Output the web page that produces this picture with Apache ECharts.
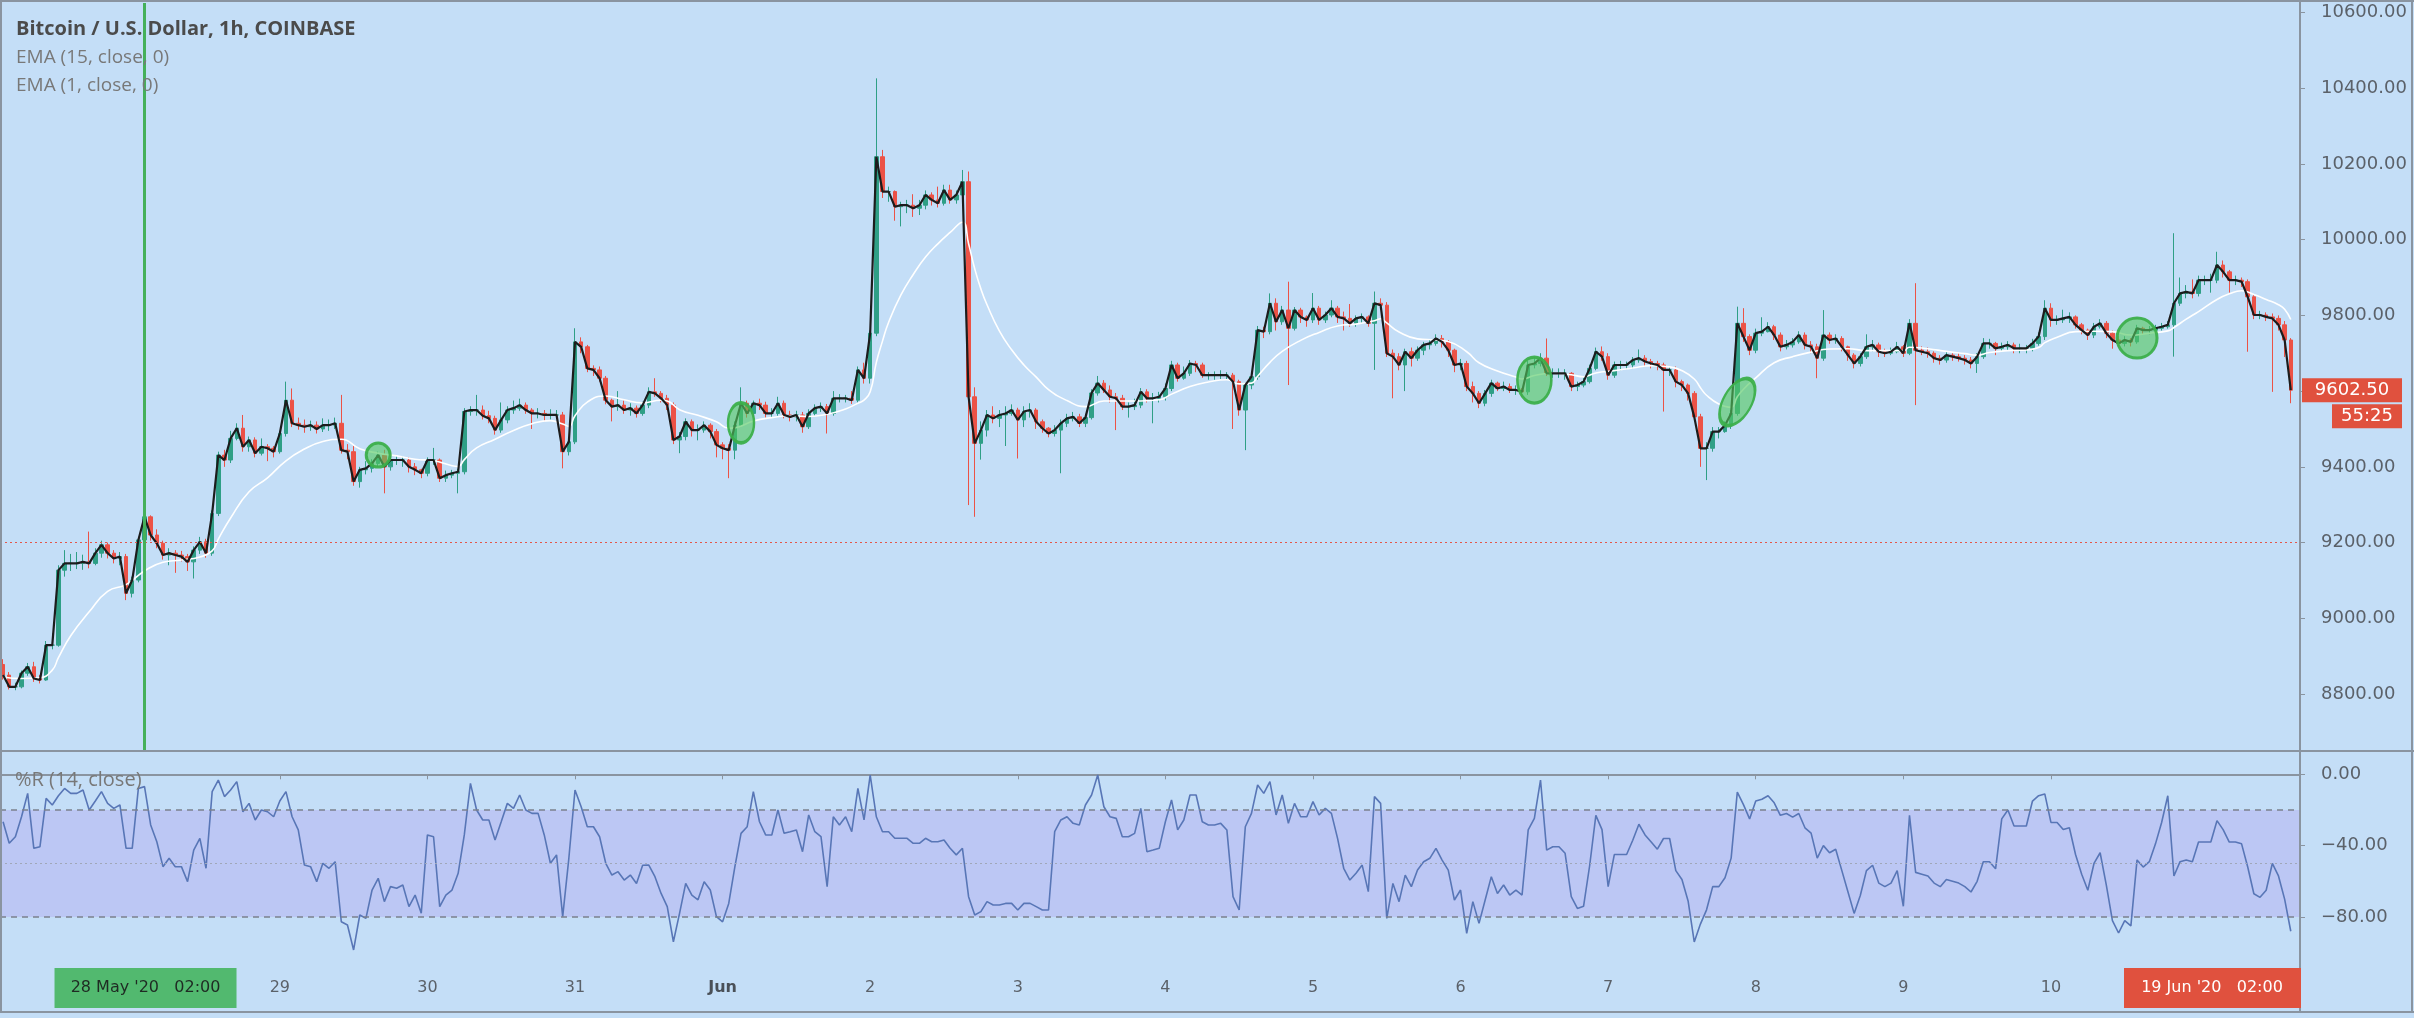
<!DOCTYPE html>
<html><head><meta charset="utf-8">
<script src="https://cdn.jsdelivr.net/npm/echarts@6/dist/echarts.min.js"></script>
<style>html,body{margin:0;padding:0;background:#c4def7;}#c{width:2414px;height:1018px;}</style>
</head><body><div id="c"></div>
<script>
// ---------- data ----------
const startTime = Date.UTC(2020, 4, 27, 3); // first hourly candle: 27 May 2020 03:00
const opens = [8878,8850,8819,8819,8855,8872,8841,8837,8929,8929,
9127,9145,9145,9145,9149,9145,9172,9194,9172,9158,
9163,9066,9101,9207,9268,9220,9198,9167,9172,9167,
9163,9149,9180,9202,9172,9277,9431,9418,9475,9502,
9453,9471,9436,9453,9449,9440,9488,9576,9515,9510,
9506,9510,9500,9510,9510,9515,9444,9440,9361,9392,
9396,9409,9431,9400,9418,9418,9418,9400,9392,9383,
9418,9418,9370,9378,9383,9387,9546,9550,9550,9535,
9528,9497,9524,9550,9555,9563,9550,9541,9541,9537,
9537,9537,9440,9466,9730,9717,9660,9656,9634,9576,
9559,9563,9550,9555,9541,9563,9598,9594,9581,9563,
9471,9480,9519,9497,9497,9510,9493,9458,9449,9444,
9510,9568,9541,9568,9563,9541,9541,9568,9537,9532,
9537,9506,9541,9555,9559,9541,9581,9581,9581,9576,
9656,9634,9753,10219,10127,10127,10087,10091,10091,10083,
10091,10118,10105,10096,10131,10105,10118,10153,9585,9462,
9497,9537,9528,9537,9541,9550,9524,9546,9550,9519,
9502,9488,9497,9515,9528,9532,9515,9530,9595,9621,
9603,9585,9581,9559,9559,9563,9598,9581,9581,9585,
9607,9669,9634,9647,9673,9669,9642,9642,9642,9642,
9642,9625,9550,9616,9638,9761,9757,9832,9783,9814,
9766,9814,9796,9788,9819,9788,9801,9819,9796,9792,
9779,9792,9796,9779,9832,9827,9700,9691,9669,9704,
9687,9708,9722,9726,9739,9730,9708,9669,9673,9612,
9594,9568,9594,9621,9607,9612,9603,9603,9598,9669,
9673,9687,9647,9647,9647,9647,9612,9616,9625,9660,
9704,9691,9642,9669,9669,9669,9682,9687,9678,9673,
9669,9656,9656,9625,9616,9594,9532,9449,9449,9493,
9493,9510,9541,9779,9744,9708,9753,9757,9770,9748,
9717,9722,9730,9748,9722,9717,9687,9748,9735,9739,
9717,9695,9673,9691,9717,9722,9704,9700,9704,9717,
9700,9779,9708,9704,9700,9687,9682,9695,9691,9687,
9682,9673,9691,9726,9726,9713,9717,9722,9713,9713,
9713,9726,9744,9819,9788,9788,9792,9796,9775,9761,
9748,9770,9779,9753,9735,9726,9735,9730,9766,9761,
9761,9766,9770,9775,9832,9858,9862,9858,9893,9893,
9893,9933,9915,9893,9893,9889,9849,9801,9801,9796,
9792,9775,9735];
const closes = [8850,8819,8819,8855,8872,8841,8837,8929,8929,9127,
9145,9145,9145,9149,9145,9172,9194,9172,9158,9163,
9066,9101,9207,9268,9220,9198,9167,9172,9167,9163,
9149,9180,9202,9172,9277,9431,9418,9475,9502,9453,
9471,9436,9453,9449,9440,9488,9576,9515,9510,9506,
9510,9500,9510,9510,9515,9444,9440,9361,9392,9396,
9409,9431,9400,9418,9418,9418,9400,9392,9383,9418,
9418,9370,9378,9383,9387,9546,9550,9550,9535,9528,
9497,9524,9550,9555,9563,9550,9541,9541,9537,9537,
9537,9440,9466,9730,9717,9660,9656,9634,9576,9559,
9563,9550,9555,9541,9563,9598,9594,9581,9563,9471,
9480,9519,9497,9497,9510,9493,9458,9449,9444,9510,
9568,9541,9568,9563,9541,9541,9568,9537,9532,9537,
9506,9541,9555,9559,9541,9581,9581,9581,9576,9656,
9634,9753,10219,10127,10127,10087,10091,10091,10083,10091,
10118,10105,10096,10131,10105,10118,10153,9585,9462,9497,
9537,9528,9537,9541,9550,9524,9546,9550,9519,9502,
9488,9497,9515,9528,9532,9515,9530,9595,9621,9603,
9585,9581,9559,9559,9563,9598,9581,9581,9585,9607,
9669,9634,9647,9673,9669,9642,9642,9642,9642,9642,
9625,9550,9616,9638,9761,9757,9832,9783,9814,9766,
9814,9796,9788,9819,9788,9801,9819,9796,9792,9779,
9792,9796,9779,9832,9827,9700,9691,9669,9704,9687,
9708,9722,9726,9739,9730,9708,9669,9673,9612,9594,
9568,9594,9621,9607,9612,9603,9603,9598,9669,9673,
9687,9647,9647,9647,9647,9612,9616,9625,9660,9704,
9691,9642,9669,9669,9669,9682,9687,9678,9673,9669,
9656,9656,9625,9616,9594,9532,9449,9449,9493,9493,
9510,9541,9779,9744,9708,9753,9757,9770,9748,9717,
9722,9730,9748,9722,9717,9687,9748,9735,9739,9717,
9695,9673,9691,9717,9722,9704,9700,9704,9717,9700,
9779,9708,9704,9700,9687,9682,9695,9691,9687,9682,
9673,9691,9726,9726,9713,9717,9722,9713,9713,9713,
9726,9744,9819,9788,9788,9792,9796,9775,9761,9748,
9770,9779,9753,9735,9726,9735,9730,9766,9761,9761,
9766,9770,9775,9832,9858,9862,9858,9893,9893,9893,
9933,9915,9893,9893,9889,9849,9801,9801,9796,9792,
9775,9735,9602.5];
const highs = [8892,8858,8830,8862,8882,8885,8850,8940,8960,9140,
9180,9170,9175,9168,9229,9185,9205,9200,9180,9175,
9170,9110,9215,9286,9272,9235,9205,9185,9180,9178,
9170,9190,9215,9210,9285,9440,9445,9495,9515,9537,
9480,9478,9475,9460,9455,9495,9625,9607,9530,9525,
9522,9520,9528,9525,9530,9590,9460,9455,9400,9415,
9420,9440,9445,9428,9430,9428,9425,9410,9395,9425,
9450,9422,9390,9392,9395,9555,9560,9590,9562,9548,
9535,9570,9560,9575,9580,9570,9555,9555,9550,9552,
9550,9545,9475,9766,9742,9722,9668,9665,9640,9580,
9600,9575,9568,9562,9572,9610,9634,9600,9590,9570,
9492,9528,9525,9512,9520,9515,9500,9465,9460,9520,
9610,9575,9575,9580,9572,9555,9585,9575,9548,9548,
9545,9552,9565,9570,9566,9600,9592,9590,9600,9665,
9675,9760,10426,10237,10140,10130,10100,10105,10120,10105,
10130,10125,10140,10145,10145,10130,10184,10180,9610,9520,
9550,9560,9550,9560,9565,9556,9560,9568,9555,9525,
9505,9510,9525,9540,9545,9540,9540,9605,9640,9629,
9615,9595,9590,9570,9580,9608,9605,9595,9598,9620,
9680,9675,9665,9682,9680,9675,9650,9652,9655,9650,
9648,9630,9622,9645,9772,9770,9858,9845,9825,9889,
9822,9820,9800,9859,9825,9810,9840,9825,9810,9830,
9800,9805,9800,9863,9845,9835,9710,9700,9712,9715,
9718,9730,9735,9750,9748,9735,9712,9685,9680,9625,
9600,9603,9630,9625,9625,9620,9615,9608,9680,9690,
9700,9739,9660,9660,9658,9650,9625,9635,9670,9715,
9718,9700,9678,9680,9678,9690,9710,9695,9685,9680,
9675,9665,9665,9630,9620,9600,9540,9465,9505,9505,
9520,9550,9823,9819,9750,9765,9795,9782,9775,9755,
9735,9740,9758,9755,9732,9725,9814,9755,9750,9745,
9720,9700,9700,9750,9735,9728,9712,9715,9730,9722,
9790,9885,9718,9715,9705,9695,9705,9700,9700,9695,
9690,9700,9740,9738,9730,9728,9732,9728,9725,9722,
9738,9755,9840,9832,9800,9815,9808,9800,9780,9765,
9780,9790,9785,9760,9745,9745,9740,9775,9770,9772,
9775,9780,9785,10017,9900,9880,9895,9905,9905,9910,
9968,9945,9920,9905,9900,9895,9855,9812,9808,9805,
9800,9785,9740];
const lows = [8838,8812,8810,8815,8848,8832,8828,8835,8918,8925,
9110,9125,9130,9128,9132,9140,9160,9158,9145,9140,
9048,9055,9095,9195,9205,9185,9155,9140,9120,9150,
9125,9105,9170,9160,9165,9270,9400,9410,9470,9440,
9440,9425,9430,9415,9425,9435,9480,9505,9498,9490,
9495,9488,9492,9495,9500,9435,9420,9350,9345,9380,
9385,9400,9330,9390,9405,9400,9385,9378,9370,9375,
9405,9360,9360,9370,9330,9380,9535,9535,9525,9515,
9485,9490,9515,9540,9548,9540,9500,9528,9520,9525,
9528,9396,9430,9460,9700,9650,9640,9625,9565,9520,
9548,9540,9535,9530,9535,9555,9585,9570,9550,9460,
9436,9470,9480,9470,9490,9475,9425,9420,9370,9420,
9505,9530,9530,9550,9530,9530,9535,9528,9520,9520,
9490,9500,9535,9545,9488,9535,9570,9570,9566,9570,
9620,9620,9745,10110,10100,10050,10035,10070,10060,10065,
10080,10090,10085,10090,10095,10095,10110,9299,9268,9419,
9480,9515,9505,9455,9535,9422,9505,9530,9500,9490,
9478,9480,9383,9505,9520,9505,9505,9525,9588,9595,
9570,9497,9550,9530,9550,9555,9570,9515,9570,9575,
9600,9625,9630,9640,9650,9635,9630,9630,9632,9630,
9500,9535,9444,9605,9630,9740,9750,9760,9775,9616,
9760,9780,9770,9780,9775,9780,9795,9780,9760,9770,
9770,9780,9770,9656,9815,9690,9581,9655,9600,9665,
9680,9695,9710,9720,9715,9690,9650,9655,9600,9570,
9555,9560,9585,9600,9600,9595,9590,9585,9590,9660,
9665,9640,9635,9635,9630,9600,9600,9610,9620,9655,
9680,9630,9635,9655,9658,9660,9675,9665,9660,9655,
9546,9640,9610,9600,9575,9520,9400,9365,9440,9475,
9490,9500,9535,9730,9695,9700,9745,9755,9735,9705,
9710,9715,9725,9710,9700,9634,9680,9725,9725,9705,
9680,9660,9665,9685,9705,9690,9690,9695,9700,9690,
9695,9563,9695,9688,9675,9670,9675,9680,9678,9670,
9660,9648,9685,9712,9695,9705,9708,9700,9700,9700,
9705,9720,9735,9770,9775,9780,9780,9765,9750,9735,
9740,9765,9740,9712,9715,9718,9718,9725,9750,9750,
9755,9760,9765,9691,9825,9845,9845,9850,9880,9860,
9885,9900,9860,9880,9875,9704,9790,9790,9785,9598,
9760,9690,9568];
// EMA(15) white line, read at sample candles: [candle index, value]
const ema15 = [[0,8845],[3,8841],[6,8843],[8,8863],[9,8896],[11,8954],[14,9017],[17,9071],[20,9089],[23,9125],
[26,9148],[29,9154],[32,9162],[34,9178],[35,9209],[37,9265],[40,9334],[43,9371],[46,9416],[49,9447],
[52,9467],[55,9473],[58,9448],[61,9436],[64,9429],[67,9420],[70,9416],[73,9403],[74,9401],[75,9419],
[77,9450],[80,9473],[83,9496],[86,9514],[89,9522],[91,9513],[92,9507],[93,9535],[95,9571],[98,9587],
[101,9577],[104,9569],[107,9576],[108,9574],[110,9551],[113,9536],[116,9519],[118,9502],[119,9503],[122,9521],
[125,9530],[128,9535],[131,9533],[134,9539],[137,9553],[139,9568],[140,9576],[141,9598],[142,9676],[143,9732],
[144,9782],[146,9854],[148,9908],[150,9954],[152,9989],[154,10019],[156,10046],[157,9989],[158,9923],[159,9870],
[160,9828],[162,9759],[164,9709],[166,9669],[168,9637],[170,9604],[173,9575],[176,9559],[179,9574],[182,9574],
[185,9574],[188,9577],[190,9592],[193,9612],[196,9624],[199,9630],[201,9619],[203,9621],[204,9639],[206,9676],
[208,9705],[211,9734],[214,9755],[217,9772],[220,9777],[223,9786],[224,9791],[225,9780],[227,9756],[230,9738],
[233,9735],[235,9731],[238,9704],[240,9675],[243,9653],[246,9637],[247,9632],[249,9641],[252,9647],[255,9643],
[257,9638],[259,9648],[262,9654],[265,9661],[268,9667],[271,9664],[273,9654],[275,9632],[276,9609],[277,9589],
[279,9566],[281,9557],[282,9585],[283,9605],[285,9635],[288,9675],[291,9691],[294,9703],[297,9711],[300,9712],
[303,9707],[306,9707],[309,9707],[310,9716],[313,9712],[316,9705],[319,9699],[321,9695],[323,9702],[326,9707],
[329,9709],[331,9715],[332,9728],[334,9742],[337,9757],[340,9758],[343,9757],[346,9748],[349,9753],[352,9759],
[353,9768],[355,9790],[357,9810],[360,9842],[362,9857],[364,9865],[366,9855],[368,9842],[370,9828],[371,9816],[372,9789]];
// Williams %R (14, close), one value per candle
const willR = [-26.6,-38.7,-35,-23.8,-10.7,-41.5,-40.6,-13.5,-17.2,-12,
-7.9,-10.7,-10.7,-8.8,-20,-15,-9.7,-16.3,-19.1,-17.2,
-41.5,-41.5,-7.9,-6.9,-28.4,-37.8,-51.8,-47.1,-51.8,-51.8,
-60.2,-42.5,-35.9,-52.7,-9.7,-3.2,-12.5,-8.8,-4.1,-21,
-16.3,-25.6,-20,-21,-23.8,-15,-9.7,-23.8,-31.2,-50.9,
-51.8,-60.2,-49.9,-52.7,-49,-82.7,-84.5,-98.5,-78.9,-80.8,
-64.9,-58.3,-71.4,-63,-63.9,-62.1,-74.2,-67.7,-77.9,-34,
-35,-74.2,-67.7,-64.9,-55.5,-34,-5.1,-20,-25.6,-25.6,
-36.8,-26.6,-16.3,-19.1,-11.6,-20,-21.9,-21.9,-34,-49.9,
-45.2,-79.8,-47.1,-8.8,-18.2,-29.4,-29.4,-35,-49.9,-56.5,
-54.6,-59.3,-56.5,-61.2,-51,-50.9,-57.4,-66.8,-74.2,-93.9,
-78,-61.2,-67.7,-70.4,-60.2,-64.9,-79.8,-82.7,-72.4,-51.8,
-33.1,-29.4,-9.7,-26.6,-34,-34,-20,-33.1,-32.2,-31.2,
-43.4,-22.8,-32.2,-35,-63,-23.8,-28.4,-23.8,-32.2,-7.9,
-25.6,-0.4,-23.8,-32.2,-32.2,-35.9,-35.9,-35.9,-38.7,-38.7,
-35.9,-37.8,-37.8,-36.8,-41.5,-45.2,-41.5,-68.6,-78.9,-77,
-71.4,-73.3,-73.3,-72.4,-72.4,-76.1,-72.4,-72.4,-74.2,-76.1,
-76.1,-32.2,-25.6,-23.8,-27.5,-28.4,-17.2,-11.6,-0.4,-18.2,
-23.8,-24.7,-35,-35,-33.1,-19.1,-43.4,-42.5,-41.5,-26.6,
-14.4,-31.2,-25.6,-11.6,-11.6,-26.6,-28.4,-28.4,-27.5,-31.2,
-68.6,-76.1,-29.4,-21.9,-6,-10.7,-4.1,-22.8,-11.6,-27.5,
-16.3,-23.8,-23.8,-15.3,-22.8,-19.1,-21.9,-35.9,-52.7,-59.3,
-55.5,-50.9,-65.8,-12.5,-16.3,-80.8,-61.2,-71.4,-56.5,-63,
-53.7,-49,-47.1,-41.5,-48.1,-53.7,-70.5,-64.9,-89.2,-71.4,
-83.6,-70.5,-57.4,-66.8,-62.1,-67.7,-64.9,-67.7,-31.2,-24.7,
-3.2,-42.5,-40.6,-40.6,-44.3,-68.6,-75.2,-74,-51,-23,
-31,-63,-45,-45,-45,-37,-28,-34,-38,-42,
-36,-36,-54,-59,-71,-94,-84,-76,-63,-63,
-58,-47,-10,-17,-25,-15,-14,-12,-16,-23,
-22,-24,-22,-30,-33,-47,-40,-44,-42,-54,
-66,-78,-68,-54,-51,-61,-63,-61,-54,-74,
-23,-55,-56,-57,-61,-63,-59,-60,-61,-63,
-66,-60,-49,-49,-53,-25,-20,-29,-29,-29,
-15,-12,-11,-27,-27,-31,-30,-45,-56,-65,
-50,-44,-62,-82,-89,-82,-85,-48,-52,-49,
-39,-27,-12,-57,-49,-48,-49,-38,-38,-38,
-26,-31,-38,-38,-39,-52,-67,-69,-65,-50,
-57,-70,-88];
const priceTicks = [8800,9000,9200,9400,9600,9800,10000,10200,10400,10600];
const rTicks = [0,-40,-80];
const rBands = {upper: -20, middle: -50, lower: -80};
const dayLabels = ['29','30','31','Jun','2','3','4','5','6','7','8','9','10'];
const highlightSpots = [[60.6,9431],[119.8,9516],[248.5,9629],[281.5,9571],[347,9740]];
const markedCandle = 23;          // 28 May '20 02:00
const refLevel = 9200;
const lastPrice = 9602.5;
const countdown = '55:25';
const titleLines = ['Bitcoin / U.S. Dollar, 1h, COINBASE', 'EMA (15, close, 0)', 'EMA (1, close, 0)'];
const rTitle = '%R (14, close)';
const markedLabel = "28 May '20   02:00";
const cursorLabel = "19 Jun '20   02:00";

// ---------- build ----------
const MONTHS = ['Jan','Feb','Mar','Apr','May','Jun','Jul','Aug','Sep','Oct','Nov','Dec'];
const pad = n => String(n).padStart(2,'0');
const categories = [];
for (let i = 0; i <= closes.length; i++) { // one empty slot at right edge
  const d = new Date(startTime + i * 3600000);
  categories.push(d.getUTCFullYear()+'-'+pad(d.getUTCMonth()+1)+'-'+pad(d.getUTCDate())+' '+pad(d.getUTCHours())+':00');
}
function dayText(cat) {
  const d = new Date(cat.replace(' ', 'T') + ':00Z');
  if (d.getUTCHours() !== 0) return null;
  return d.getUTCDate() === 1 ? MONTHS[d.getUTCMonth()] : String(d.getUTCDate());
}
const showTick = (idx, val) => { const t = dayText(val); return t !== null && dayLabels.includes(t); };
const candleData = closes.map((c, i) => [opens[i], c, lows[i], highs[i]]);

const AX = '#8a94a0', TXT = '#5b6169';
const spotSizes = [[24,24],[26,40],[34,46],[28,52],[40,40]];
const spotRot = [0,0,0,-30,0];

const chart = echarts.init(document.getElementById('c'), null, {renderer: 'canvas'});
const option = {
  animation: false,
  backgroundColor: '#c4def7',
  grid: [
    {left: 0, right: 114, top: 3, height: 748},
    {left: 0, right: 114, top: 751, height: 215}
  ],
  xAxis: [
    {type: 'category', gridIndex: 0, data: categories, boundaryGap: true, show: false},
    {type: 'category', gridIndex: 1, data: categories, boundaryGap: true,
     axisLine: {show: true, lineStyle: {color: AX, width: 2}},
     axisTick: {show: true, alignWithLabel: true, interval: showTick, length: 5, lineStyle: {color: AX}},
     axisLabel: {interval: showTick, margin: 14, color: TXT, fontFamily: 'DejaVu Sans', fontSize: 16,
       formatter: v => { const t = dayText(v); return t === 'Jun' ? '{b|Jun}' : t; },
       rich: {b: {fontWeight: 'bold', fontFamily: 'DejaVu Sans', fontSize: 16, color: '#4a5058'}}},
     splitLine: {show: false}}
  ],
  yAxis: [
    {type: 'value', gridIndex: 0, position: 'right', min: 8649.5, max: 10625, scale: true,
     axisLine: {show: true, lineStyle: {color: AX, width: 2}},
     axisTick: {show: true, length: 5, customValues: priceTicks, lineStyle: {color: AX}},
     axisLabel: {customValues: priceTicks, margin: 21, color: TXT, fontFamily: 'DejaVu Sans', fontSize: 18,
       formatter: v => v.toFixed(2)},
     splitLine: {show: false}},
    {type: 'value', gridIndex: 1, position: 'right', min: -107.5, max: 13.07,
     axisLine: {show: true, lineStyle: {color: AX, width: 2}},
     axisTick: {show: true, length: 5, customValues: rTicks, lineStyle: {color: AX}},
     axisLabel: {customValues: rTicks, margin: 21, color: TXT, fontFamily: 'DejaVu Sans', fontSize: 18,
       formatter: v => (v < 0 ? '\u2212' : '') + Math.abs(v).toFixed(2)},
     splitLine: {show: false}}
  ],
  series: [
    {type: 'candlestick', xAxisIndex: 0, yAxisIndex: 0, data: candleData, barWidth: 4, z: 2,
     itemStyle: {color: '#2f9f86', color0: '#ec5246', borderColor: '#2f9f86', borderColor0: '#ec5246', borderWidth: 1},
     markLine: {symbol: 'none', silent: true, animation: false, label: {show: false},
       data: [
         {yAxis: refLevel, lineStyle: {color: '#e4574a', type: [2, 3], width: 1}},
         {xAxis: markedCandle, lineStyle: {color: '#45b05a', type: 'solid', width: 3}}
       ]}},
    {type: 'line', xAxisIndex: 0, yAxisIndex: 0, data: ema15, smooth: 0.5, symbol: 'none', z: 3,
     lineStyle: {color: '#ffffff', width: 1.6}},
    {type: 'line', xAxisIndex: 0, yAxisIndex: 0, data: closes, symbol: 'none', z: 4,
     lineStyle: {color: '#1c1c1c', width: 2.2},
     markPoint: {silent: true, animation: false, label: {show: false},
       itemStyle: {color: 'rgba(82,200,95,0.62)', borderColor: 'rgba(60,175,75,0.95)', borderWidth: 3},
       data: highlightSpots.map((s, k) => ({coord: s, symbol: 'circle', symbolSize: spotSizes[k], symbolRotate: spotRot[k]}))}},
    {type: 'line', xAxisIndex: 1, yAxisIndex: 1, data: willR, symbol: 'none', z: 4,
     lineStyle: {color: '#5876b6', width: 1.6},
     markArea: {silent: true, itemStyle: {color: '#bcc7f4'}, data: [[{yAxis: rBands.upper}, {yAxis: rBands.lower}]]},
     markLine: {symbol: 'none', silent: true, label: {show: false},
       data: [
         {yAxis: rBands.upper, lineStyle: {color: '#7b818d', type: [6, 5], width: 1.5}},
         {yAxis: rBands.lower, lineStyle: {color: '#7b818d', type: [6, 5], width: 1.5}},
         {yAxis: rBands.middle, lineStyle: {color: '#a0a7b8', type: [2, 3], width: 1}}
       ]}}
  ]
};
chart.setOption(option);

// overlay texts / frame / value tags positioned through the axes
const yLast = chart.convertToPixel({yAxisIndex: 0}, lastPrice);
const xMark = chart.convertToPixel({xAxisIndex: 1}, markedCandle);
const RED = '#e0513e';
const line = (x1, y1, x2, y2, w) => ({type: 'line', silent: true, z: 50, shape: {x1, y1, x2, y2}, style: {stroke: AX, lineWidth: w || 2}});
const graphics = [
  line(0, 1, 2414, 1), line(1, 0, 1, 1013), line(0, 751, 2414, 751), line(0, 1012, 2414, 1012),
  line(2300, 0, 2300, 1013), line(2412, 0, 2412, 1013),
  {type: 'text', z: 60, x: 16, y: 29, style: {text: titleLines[0], fill: '#4b4b4b', font: 'bold 20px "Open Sans"', verticalAlign: 'middle'}},
  {type: 'text', z: 60, x: 16, y: 58, style: {text: titleLines[1], fill: '#787878', font: '19px "Open Sans"', verticalAlign: 'middle'}},
  {type: 'text', z: 60, x: 16, y: 86, style: {text: titleLines[2], fill: '#787878', font: '19px "Open Sans"', verticalAlign: 'middle'}},
  {type: 'text', z: 60, x: 15, y: 780, style: {text: rTitle, fill: '#787878', font: '20px "Open Sans"', verticalAlign: 'middle'}},
  // last price tag + countdown
  {type: 'rect', z: 60, shape: {x: 2302, y: yLast - 12, width: 100, height: 24}, style: {fill: RED}},
  {type: 'text', z: 61, x: 2352, y: yLast, style: {text: lastPrice.toFixed(2), fill: '#ffffff', font: '18px "DejaVu Sans"', align: 'center', verticalAlign: 'middle'}},
  {type: 'rect', z: 60, shape: {x: 2332, y: yLast + 14, width: 70, height: 24}, style: {fill: RED}},
  {type: 'text', z: 61, x: 2367, y: yLast + 26, style: {text: countdown, fill: '#ffffff', font: '18px "DejaVu Sans"', align: 'center', verticalAlign: 'middle'}},
  // time axis tags
  {type: 'rect', z: 60, shape: {x: xMark - 90, y: 968, width: 182, height: 40}, style: {fill: '#52b96f'}},
  {type: 'text', z: 61, x: xMark + 1, y: 988, style: {text: markedLabel, fill: '#1f2b23', font: '16px "DejaVu Sans"', align: 'center', verticalAlign: 'middle'}},
  {type: 'rect', z: 60, shape: {x: 2124, y: 968, width: 177, height: 40}, style: {fill: RED}},
  {type: 'text', z: 61, x: 2212, y: 988, style: {text: cursorLabel, fill: '#ffffff', font: '16px "DejaVu Sans"', align: 'center', verticalAlign: 'middle'}}
];
chart.setOption({graphic: graphics});
</script></body></html>
